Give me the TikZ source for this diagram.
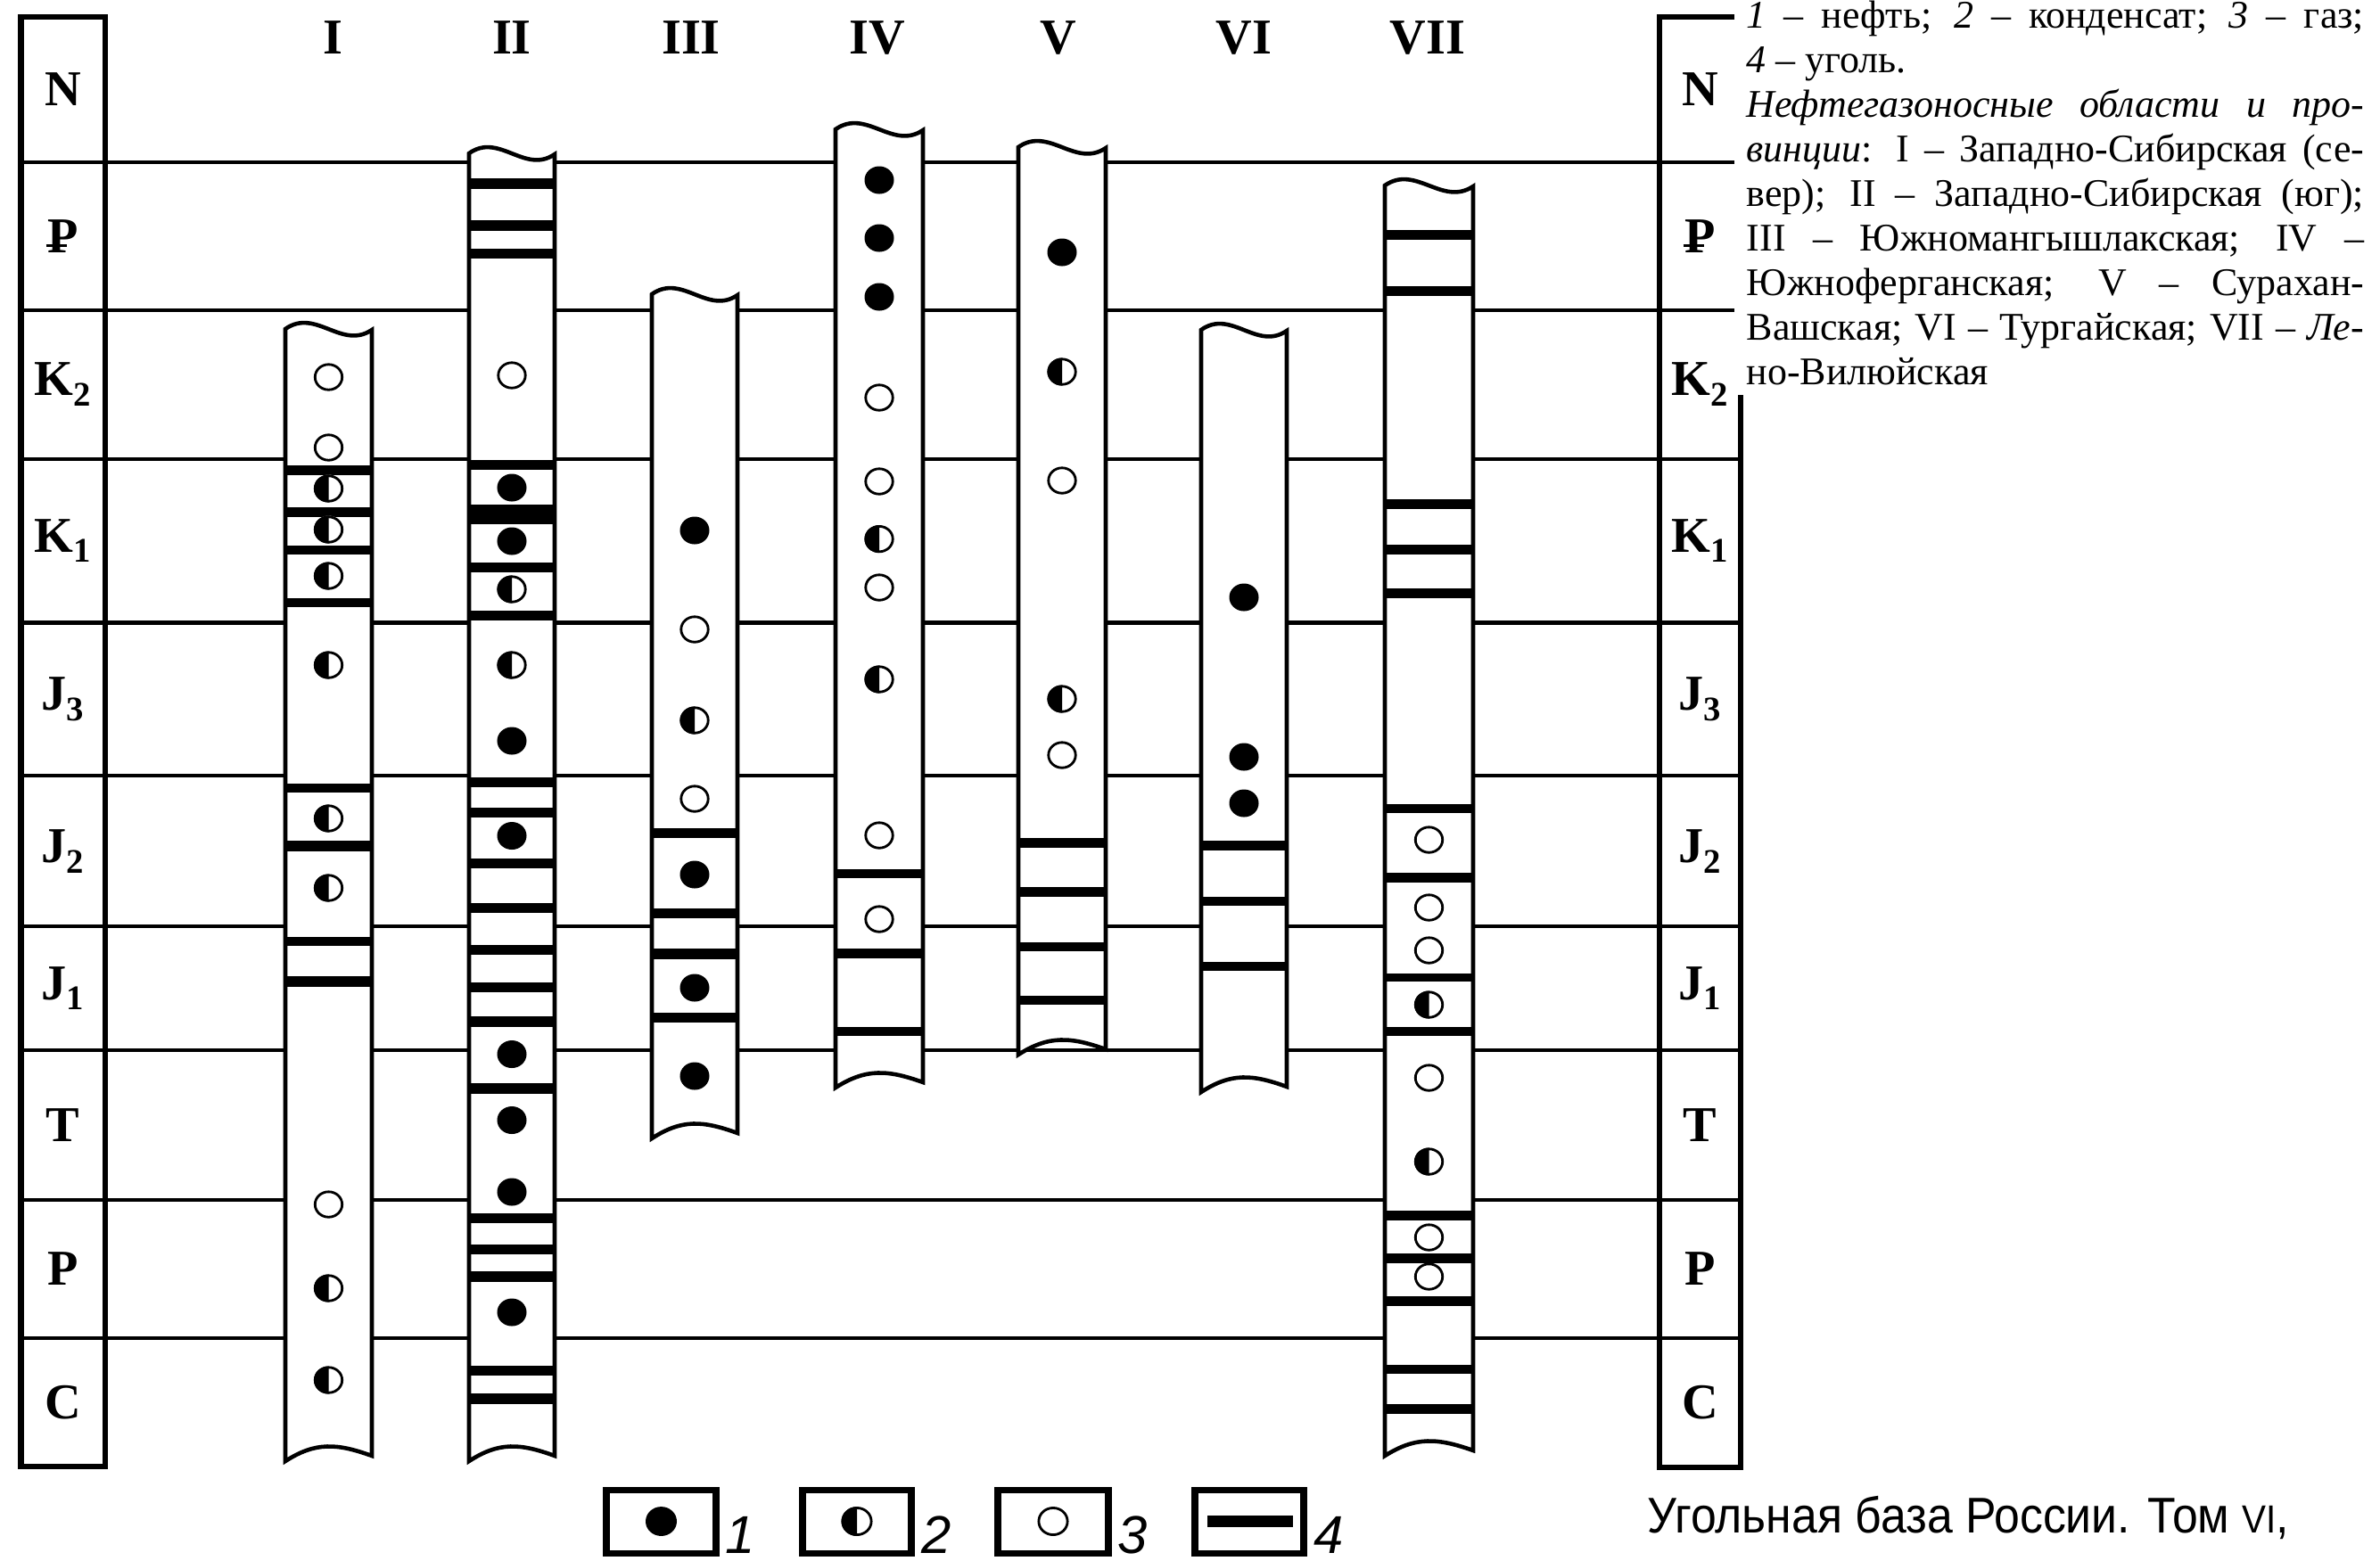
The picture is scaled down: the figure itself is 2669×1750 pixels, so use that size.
\documentclass[tikz,border=0pt]{standalone}
\usepackage{fontspec}
\usepackage{graphicx}
\setmainfont{Liberation Serif}
\newfontfamily\numfont{Liberation Sans}
\newfontfamily\citefont[FakeStretch=0.92]{Liberation Sans}

% justified line of the explanatory note
\newlength\notew
\setlength\notew{6.92cm}
\newsavebox\linebox
\newcommand\jline[1]{\sbox\linebox{#1}\ifdim\wd\linebox>\notew\resizebox{\notew}{\height}{\usebox\linebox}\else\makebox[\notew][s]{#1}\fi}

% Paleogene sign and stage subscripts
\newcommand\paleo{\leavevmode\rlap{\kern-0.03em\rule[0.22ex]{0.42em}{0.13ex}}P}
\newcommand\low[1]{\raisebox{-0.45ex}{\fontsize{11}{11}\selectfont\bfseries #1}}

% one well section: white strip with torn top and bottom
\newcommand\wellcol[4]{%
  \draw[well, fill=white] (#1,#3)
    .. controls ({#1+0.35*(#2-#1)},{#3-24}) and ({#1+0.65*(#2-#1)},{#3+24}) .. (#2,{#3+1})
    -- (#2,{#4-3})
    .. controls ({#1+0.6*(#2-#1)},{#4-17}) and ({#1+0.35*(#2-#1)},{#4-19}) .. (#1,{#4+3})
    -- cycle;}
% coal seams: list of centre/thickness
\newcommand\seams[3]{\foreach \yy/\hh in {#3}{\fill ({#1},{\yy-\hh/2}) rectangle ({#2},{\yy+\hh/2});}}
\newcommand\oils[2]{\foreach \yy in {#2}{\pic at (#1,\yy) {oil};}}
\newcommand\conds[2]{\foreach \yy in {#2}{\pic at (#1,\yy) {cond};}}
\newcommand\gases[2]{\foreach \yy in {#2}{\pic at (#1,\yy) {gas};}}

\begin{document}
\begin{tikzpicture}[x=0.01cm,y=-0.01cm,
  rule/.style={line width=1.15pt},
  frame/.style={line width=1.75pt},
  well/.style={line width=1.3pt},
  key/.style={line width=2pt},
  stage/.style={font=\fontsize{16}{16}\selectfont\bfseries, inner sep=0pt},
  head/.style={font=\fontsize{16}{16}\selectfont\bfseries, inner sep=0pt},
  note/.style={font=\fontsize{12.5}{14}\selectfont, anchor=base west, inner sep=0pt},
  keynum/.style={font=\numfont\itshape\fontsize{17}{17}\selectfont, anchor=base, inner sep=0pt},
  oil/.pic={\fill (0,0) ellipse [x radius=0.165cm, y radius=0.155cm];},
  gas/.pic={\draw[line width=0.8pt, fill=white] (0,0) ellipse [x radius=0.152cm, y radius=0.142cm];},
  cond/.pic={\fill[white] (0,0) ellipse [x radius=0.165cm, y radius=0.155cm];
    \fill (0cm,-0.155cm) arc [start angle=-90, end angle=-270, x radius=0.165cm, y radius=0.155cm] -- cycle;
    \draw[line width=0.8pt] (0,0) ellipse [x radius=0.152cm, y radius=0.142cm];}
]
\useasboundingbox (0,0) rectangle (2669,1750);

% stage boundaries
\foreach \yy in {181.6,347.6}{\draw[rule] (23.5,\yy) -- (1945,\yy);}
\foreach \yy in {514.7,698.5,870.1,1039.4,1177.6,1345.8,1500.7}{\draw[rule] (23.5,\yy) -- (1952,\yy);}

% stratigraphic scales
\draw[frame] (23.5,19) rectangle (118,1645);
\draw[frame] (1945,19) -- (1861,19) -- (1861,1646) -- (1952,1646) -- (1952,443);

\foreach \nm/\xx in {l/70.5, r/1906.5}{
  \node[stage] (\nm N)  at (\xx,100)    {N};
  \node[stage] (\nm Pg) at (\xx,264.6)  {\paleo};
  \node[stage] (\nm Kb) at (\xx,431)    {K\low{2}};
  \node[stage] (\nm Ka) at (\xx,606.6)  {K\low{1}};
  \node[stage] (\nm Jc) at (\xx,784)    {J\low{3}};
  \node[stage] (\nm Jb) at (\xx,955)    {J\low{2}};
  \node[stage] (\nm Ja) at (\xx,1108.5) {J\low{1}};
  \node[stage] (\nm T)  at (\xx,1261.7) {T};
  \node[stage] (\nm P)  at (\xx,1423)   {P};
  \node[stage] (\nm C)  at (\xx,1573)   {C};
}

% region headings
\foreach \nm/\xx/\tx in {h1/373/I, h2/574/II, h3/775/III, h4/984/IV, h5/1187/V, h6/1395/VI, h7/1601/VII}{
  \node[head] (\nm) at (\xx,42) {\tx};
}

% I
\wellcol{320}{417}{369}{1636}
\seams{320}{417}{527.5/11, 574/11, 616.5/10, 676/10, 884/10, 949/12, 1056/10, 1100.5/12}
\conds{368.5}{548, 594, 646, 746, 918, 996, 1445, 1548}
\gases{368.5}{423, 502, 1351}

% II
\wellcol{526}{622}{172}{1636}
\seams{526}{622}{206/12, 253/12, 284/11, 521/11, 577/22, 636/11, 690/11, 877/11, 911/11, 968/11, 1018/11, 1065/11, 1107/11, 1146/12, 1221/12, 1366/11, 1401/11, 1432/12, 1537/11, 1569/12}
\oils{574}{547, 607, 831, 937.5, 1182.5, 1256.5, 1337, 1472}
\conds{574}{661, 746}
\gases{574}{421}

% III
\wellcol{731}{827}{330}{1274}
\seams{731}{827}{934/11, 1024/11, 1070/12, 1141/11}
\oils{779}{595, 981, 1108, 1207}
\conds{779}{808}
\gases{779}{706, 896}

% IV
\wellcol{937}{1035}{145}{1217}
\seams{937}{1035}{980/10, 1069/11, 1157/10}
\oils{986}{202, 267, 333}
\conds{986}{604.6, 762}
\gases{986}{446, 540, 659, 937, 1031}

% V
\wellcol{1142}{1240}{165}{1180}
\seams{1142}{1240}{945/11, 1000/11, 1062/10, 1122/10}
\oils{1191}{283}
\conds{1191}{417, 784}
\gases{1191}{539, 847}

% VI
\wellcol{1347}{1443}{370}{1222}
\seams{1347}{1443}{948/11, 1011/10, 1084/10}
\oils{1395}{670, 849, 901}

% VII
\wellcol{1553}{1652}{208}{1630}
\seams{1553}{1652}{263/11, 326/11, 565/11, 616/11, 665/11, 907/10, 984/11, 1096/9, 1157/10, 1363/11, 1411/11, 1459/11, 1536/10, 1580/11}
\conds{1602.5}{1127, 1303}
\gases{1602.5}{942, 1018, 1066, 1209, 1388, 1432}

% key
\draw[key] (680,1671) rectangle (803,1742);
\pic[scale=1.06] at (741.5,1706.5) {oil};
\node[keynum] (k1) at (830,1742) {1};
\draw[key] (900,1671) rectangle (1022,1742);
\pic[scale=1.06] at (961,1706.5) {cond};
\node[keynum] (k2) at (1050,1742) {2};
\draw[key] (1119,1671) rectangle (1243,1742);
\pic[scale=1.06] at (1181,1706.5) {gas};
\node[keynum] (k3) at (1270,1742) {3};
\draw[key] (1340,1671) rectangle (1462,1742);
\fill (1354,1700) rectangle (1450,1713);
\node[keynum] (k4) at (1490,1742) {4};

% explanatory note
\node[note] (t1) at (1958,31)  {\jline{\textit{1} – нефть; \textit{2} – конденсат; \textit{3} – газ;}};
\node[note] (t2) at (1958,81)  {\textit{4} – уголь.};
\node[note] (t3) at (1958,131) {\jline{\textit{Нефтегазоносные области и про-}}};
\node[note] (t4) at (1958,181) {\jline{\textit{винции}: I – Западно-Сибирская (се-}};
\node[note] (t5) at (1958,231) {\jline{вер); II – Западно-Сибирская (юг);}};
\node[note] (t6) at (1958,281) {\jline{III – Южномангышлакская; IV –}};
\node[note] (t7) at (1958,331) {\jline{Южноферганская; V – Сурахан-}};
\node[note] (t8) at (1958,381) {\jline{Вашская; VI – Тургайская; VII – \textit{Ле}-}};
\node[note] (t9) at (1958,431) {но-Вилюйская};

% source
\node[anchor=base west, inner sep=0pt, font=\citefont\fontsize{16}{16}\selectfont] (src) at (1847,1719)
  {Угольная база России. Том {\fontsize{12.5}{12.5}\selectfont VI},};
\end{tikzpicture}
\end{document}
